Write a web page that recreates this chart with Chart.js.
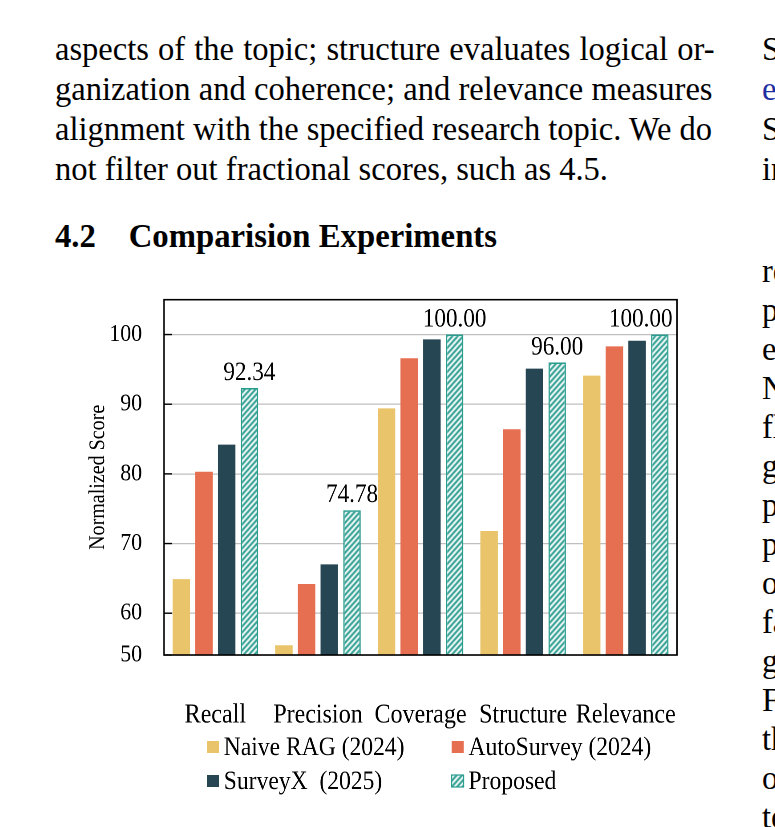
<!DOCTYPE html>
<html><head><meta charset="utf-8">
<script src="https://cdn.jsdelivr.net/npm/chart.js@4.4.1/dist/chart.umd.min.js"></script>
<style>
html,body{margin:0;padding:0;background:#fff;width:775px;height:827px;overflow:hidden;}
body{position:relative;font-family:'Liberation Serif','Times New Roman',serif;color:#000;}
.ln{position:absolute;left:55px;font-size:33px;line-height:40px;height:40px;white-space:nowrap;transform-origin:0 0;}
.hd{font-weight:bold;font-size:33px;}
.rc{position:absolute;left:762px;font-size:33px;line-height:40px;height:40px;white-space:nowrap;transform-origin:0 0;}
#chartBox{position:absolute;left:60px;top:285px;width:720px;height:520px;transform:scaleX(0.89);transform-origin:0 0;}
</style></head>
<body>
<div class="ln j" data-w="659" style="top:29px"><span>aspects of the topic; structure evaluates logical or-</span></div>
<div class="ln j" data-w="657" style="top:69px"><span>ganization and coherence; and relevance measures</span></div>
<div class="ln j" data-w="657" style="top:109px"><span>alignment with the specified research topic. We do</span></div>
<div class="ln" id="lastLine" data-w="553" style="top:149px"><span>not filter out fractional scores, such as 4.5.</span></div>
<div class="ln hd" id="heading" data-w="442" style="top:216px"><span>4.2&nbsp;&nbsp;&nbsp;&nbsp;Comparision Experiments</span></div>

<div class="rc" style="top:29px">Su</div>
<div class="rc" style="top:69px;color:#1F2E9E">et</div>
<div class="rc" style="top:109px">Su</div>
<div class="rc" style="top:149px">in</div>
<div id="rcol2"></div>

<div id="chartBox"><canvas id="c"></canvas></div>

<script>
// ---------- data ----------
const categories = ['Recall', 'Precision', 'Coverage', 'Structure', 'Relevance'];
const seriesNames = ['Naive RAG (2024)', 'AutoSurvey (2024)', 'SurveyX  (2025)', 'Proposed'];
const naiveRAG   = [64.9, 55.4, 89.4, 71.8, 94.1];
const autoSurvey = [80.3, 64.2, 96.6, 86.4, 98.3];
const surveyX    = [84.2, 67.0, 99.3, 95.1, 99.1];
const proposed   = [92.34, 74.78, 100.00, 96.00, 100.00];
const yTickValues = [54, 60, 70, 80, 90, 100];
const yTickLabels = ['50', '60', '70', '80', '90', '100'];
const yTitle = 'Normalized Score';
const yMin = 54, yMax = 105;

// ---------- right column fragments ----------
const rightFragments = ['re','p','e','N','fl','g','p','p','o','fa','g','F','th','o','te'];
const rc2 = document.getElementById('rcol2');
rightFragments.forEach((t, i) => {
  const d = document.createElement('div');
  d.className = 'rc';
  d.style.top = (251 + i * 39) + 'px';
  d.textContent = t;
  rc2.appendChild(d);
});

// ---------- fit text widths ----------
function natW(el){ return el.querySelector('span').getBoundingClientRect().width; }
const last = document.getElementById('lastLine');
const s = (+last.dataset.w) / natW(last);
document.querySelectorAll('.ln').forEach(el => {
  const target = +el.dataset.w;
  const w0 = natW(el);
  if (el.classList.contains('j')) {
    if (w0 * s <= target) {
      el.style.whiteSpace = 'normal';
      el.style.width = (target / s + 0.5) + 'px';
      el.style.textAlign = 'justify';
      el.style.textAlignLast = 'justify';
      el.style.transform = 'scaleX(' + s + ')';
    } else {
      el.style.transform = 'scaleX(' + (target / w0) + ')';
    }
  } else if (el.id === 'heading') {
    el.style.transform = 'scaleX(' + (target / w0) + ')';
  } else {
    el.style.transform = 'scaleX(' + s + ')';
  }
});
document.querySelectorAll('.rc').forEach(el => { el.style.transform = 'scaleX(' + s + ')'; });

// ---------- chart ----------
const FONT = "'Liberation Serif','Times New Roman',serif";
const SX = 0.89; // horizontal condensation of the chart box
const colors = ['#E9C46A', '#E76F51', '#264653', '#2A9D8F'];
const canvas = document.getElementById('c');
const ctx = canvas.getContext('2d');

function makeHatch(){
  const n = 6;
  const pc = document.createElement('canvas');
  pc.width = n; pc.height = n;
  const g = pc.getContext('2d');
  g.fillStyle = '#ffffff'; g.fillRect(0, 0, n, n);
  g.strokeStyle = colors[3]; g.lineWidth = 2.2;
  g.beginPath();
  g.moveTo(0, n); g.lineTo(n, 0);
  g.moveTo(-n/2, n/2); g.lineTo(n/2, -n/2);
  g.moveTo(n/2, n*1.5); g.lineTo(n*1.5, n/2);
  g.stroke();
  return ctx.createPattern(pc, 'repeat');
}
const hatch = makeHatch();

const framePlugin = {
  id: 'frame',
  afterDraw(chart){
    const {ctx, chartArea: a} = chart;
    const ys = chart.scales.y;
    ctx.save();
    ctx.strokeStyle = '#000'; ctx.lineWidth = 1.6;
    ctx.strokeRect(a.left, a.top, a.right - a.left, a.bottom - a.top);
    ctx.lineWidth = 1.4;
    yTickValues.forEach(v => {
      const y = ys.getPixelForValue(v);
      ctx.beginPath(); ctx.moveTo(a.left, y); ctx.lineTo(a.left + 9, y); ctx.stroke();
    });
    // rotated y-axis title (condensed along its length like the other texts)
    ctx.translate(42.7, (a.top + a.bottom) / 2);
    ctx.rotate(-Math.PI / 2);
    ctx.scale(SX, 1 / SX);
    ctx.font = '22.5px ' + FONT;
    ctx.fillStyle = '#000';
    ctx.textAlign = 'center';
    ctx.textBaseline = 'middle';
    ctx.fillText(yTitle, 0, 0);
    ctx.restore();
  }
};

const valueLabelPlugin = {
  id: 'valueLabels',
  afterDatasetsDraw(chart){
    const meta = chart.getDatasetMeta(3);
    const ctx = chart.ctx;
    const a = chart.chartArea;
    ctx.save();
    ctx.font = '26px ' + FONT;
    ctx.fillStyle = '#000';
    ctx.textAlign = 'center';
    ctx.textBaseline = 'alphabetic';
    meta.data.forEach((el, i) => {
      const txt = proposed[i].toFixed(2);
      const w = ctx.measureText(txt).width;
      let x = el.x;
      if (x + w / 2 > a.right - 5) x = a.right - 5 - w / 2;
      ctx.fillText(txt, x, el.y - 8);
    });
    ctx.restore();
  }
};

const legendPlugin = {
  id: 'gridLegend',
  afterDraw(chart){
    const ctx = chart.ctx;
    const cols = [165, 440];
    const rows = [462, 496];
    ctx.save();
    ctx.font = '26.5px ' + FONT;
    ctx.textBaseline = 'middle';
    ctx.textAlign = 'left';
    chart.data.datasets.forEach((ds, i) => {
      const x = cols[i % 2], y = rows[Math.floor(i / 2)];
      const w = 13.5, h = 12;
      ctx.fillStyle = ds.backgroundColor;
      ctx.fillRect(x, y - h/2, w, h);
      if (ds.borderWidth) {
        ctx.strokeStyle = ds.borderColor; ctx.lineWidth = 1.2;
        ctx.strokeRect(x, y - h/2, w, h);
      }
      ctx.fillStyle = '#000';
      ctx.fillText(ds.label, x + 19, y + 1);
    });
    ctx.restore();
  }
};

new Chart(ctx, {
  type: 'bar',
  data: {
    labels: categories,
    datasets: [
      {label: seriesNames[0], data: naiveRAG, backgroundColor: colors[0], borderWidth: 0},
      {label: seriesNames[1], data: autoSurvey, backgroundColor: colors[1], borderWidth: 0},
      {label: seriesNames[2], data: surveyX, backgroundColor: colors[2], borderWidth: 0},
      {label: seriesNames[3], data: proposed, backgroundColor: hatch, borderColor: colors[3], borderWidth: 1.6, borderSkipped: false}
    ]
  },
  options: {
    responsive: true,
    maintainAspectRatio: false,
    animation: false,
    devicePixelRatio: 2,
    layout: {padding: {left: 0, right: 26.7, top: 14, bottom: 0}},
    datasets: {bar: {categoryPercentage: 0.885, barPercentage: 0.77}},
    plugins: {legend: {display: false}, tooltip: {enabled: false}},
    scales: {
      x: {
        grid: {display: true, drawOnChartArea: false, drawTicks: true, tickLength: 44, tickColor: 'rgba(0,0,0,0)'},
        border: {display: false},
        ticks: {font: {family: FONT, size: 27}, color: '#000', padding: 0, maxRotation: 0, autoSkip: false},
        afterFit(sc){ sc.height = 150; }
      },
      y: {
        min: yMin, max: yMax,
        afterBuildTicks(sc){ sc.ticks = yTickValues.map(v => ({value: v})); },
        afterFit(sc){ sc.width = 116.9; },
        grid: {color: '#BFBFBF', lineWidth: 1.2, drawTicks: true, tickLength: 24.7, tickColor: 'rgba(0,0,0,0)'},
        border: {display: false},
        ticks: {font: {family: FONT, size: 24.5}, color: '#000', padding: 0,
                callback: (v, i) => yTickLabels[i]},
        title: {display: false}
      }
    }
  },
  plugins: [framePlugin, valueLabelPlugin, legendPlugin]
});
</script>
</body></html>
